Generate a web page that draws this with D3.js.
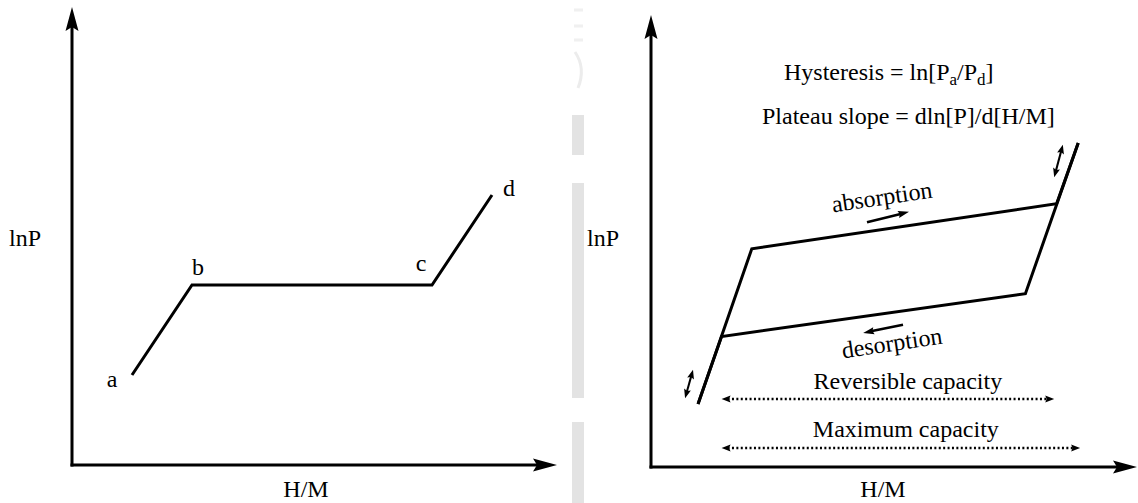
<!DOCTYPE html>
<html>
<head>
<meta charset="utf-8">
<script src="https://cdn.jsdelivr.net/npm/d3@7"></script>
<style>
  html, body { margin: 0; padding: 0; background: #fff; }
  svg { display: block; font-family: "Liberation Serif", "Times New Roman", serif; }
</style>
</head>
<body>
<svg id="chart" width="1138" height="503"></svg>
<script>
// ---- Idealised pressure–composition isotherm (left panel), H/M vs lnP ----
const pctLabels = ["a", "b", "c", "d"];
const pctHM     = [1.25, 2.5, 7.5, 8.75];
const pctLnP    = [2.0, 4.0, 4.0, 6.0];

// ---- Real isotherm with hysteresis (right panel) ----
const absorptionHM  = [0.98, 2.1, 8.45, 8.9];
const absorptionLnP = [1.4, 4.85, 5.85, 7.2];
const desorptionHM  = [8.9, 7.8, 1.47, 0.98];
const desorptionLnP = [7.2, 3.85, 2.9, 1.4];

// ---- Capacity ranges along H/M ----
const capacityNames = ["Reversible capacity", "Maximum capacity"];
const capacityStart = [1.47, 1.47];
const capacityEnd   = [8.4, 8.94];

// ---- Axis titles ----
const xTitle = "H/M";
const yTitle = "lnP";

const svg = d3.select("#chart");
const INK = "#000";
const FS = 24;      // main text size
const FS_SUB = 17;  // subscript size

// Panel frames: data domain 0–10 on both axes
const panels = {
  left:  { x: d3.scaleLinear().domain([0, 10]).range([72, 552]),
           y: d3.scaleLinear().domain([0, 10]).range([465, 15]),
           xTip: 557, yTip: 7 },
  right: { x: d3.scaleLinear().domain([0, 10]).range([651, 1131]),
           y: d3.scaleLinear().domain([0, 10]).range([467, 17]),
           xTip: 1137, yTip: 15 }
};

// Filled arrowhead pointing along `ang` with its tip at (tx, ty)
function arrowHead(g, tx, ty, ang, len, half, notch) {
  const c = Math.cos(ang), s = Math.sin(ang);
  const pt = (u, v) => [tx + u * c - v * s, ty + u * s + v * c];
  const pts = [pt(0, 0), pt(-len, -half), pt(-len + notch, 0), pt(-len, half)];
  g.append("path").attr("d", d3.line()(pts) + "Z").attr("fill", INK).attr("stroke", "none");
}

// Axes drawn with d3 axis generators (no ticks), finished with arrowheads
function drawAxes(p) {
  const ox = p.x.range()[0], oy = p.y.range()[0];
  const gx = svg.append("g").attr("transform", `translate(0,${oy})`)
    .call(d3.axisBottom(p.x).tickValues([]).tickSizeOuter(0));
  const gy = svg.append("g").attr("transform", `translate(${ox},0)`)
    .call(d3.axisLeft(p.y).tickValues([]).tickSizeOuter(0));
  [gx, gy].forEach(g => g.select(".domain").attr("stroke", INK).attr("stroke-width", 3));
  // stretch the domain lines a little so they meet under the heads
  gx.select(".domain").attr("d", `M${ox - 1.5},0H${p.xTip - 10}`);
  gy.select(".domain").attr("d", `M0,${oy + 1.5}V${p.yTip + 10}`);
  arrowHead(svg, p.xTip, oy, 0, 24, 6.5, 4);
  arrowHead(svg, ox, p.yTip, -Math.PI / 2, 24, 6.5, 4);
}

drawAxes(panels.left);
drawAxes(panels.right);

// Axis titles
svg.append("text").attr("x", 9).attr("y", 246).attr("font-size", FS).text(yTitle);
svg.append("text").attr("x", 306).attr("y", 497).attr("text-anchor", "middle").attr("font-size", FS).text(xTitle);
svg.append("text").attr("x", 587).attr("y", 246).attr("font-size", FS).text(yTitle);
svg.append("text").attr("x", 883).attr("y", 497).attr("text-anchor", "middle").attr("font-size", FS).text(xTitle);

// ---- Left panel: a–b–c–d curve ----
{
  const p = panels.left;
  const pts = pctHM.map((h, i) => [h, pctLnP[i]]);
  const line = d3.line().x(d => p.x(d[0])).y(d => p.y(d[1]));
  svg.append("path").attr("d", line(pts))
    .attr("fill", "none").attr("stroke", INK).attr("stroke-width", 3)
    .attr("stroke-linejoin", "miter");
  // label offsets (px) from each point
  const off = [[-20, 12], [6, -10], [-11, -14], [17, 1]];
  svg.selectAll("text.pct").data(pts).join("text").attr("class", "pct")
    .attr("x", (d, i) => p.x(d[0]) + off[i][0])
    .attr("y", (d, i) => p.y(d[1]) + off[i][1])
    .attr("text-anchor", "middle").attr("font-size", FS)
    .text((d, i) => pctLabels[i]);
}

// ---- Right panel: hysteresis loop ----
{
  const p = panels.right;
  const line = d3.line().x(d => p.x(d[0])).y(d => p.y(d[1]));
  const abs = absorptionHM.map((h, i) => [h, absorptionLnP[i]]);
  const des = desorptionHM.map((h, i) => [h, desorptionLnP[i]]);
  [abs, des].forEach(pts => svg.append("path").attr("d", line(pts))
    .attr("fill", "none").attr("stroke", INK).attr("stroke-width", 3)
    .attr("stroke-linejoin", "miter"));

  // slope of the plateaus in screen space, used to tilt the branch labels
  const ang = Math.atan2(p.y(absorptionLnP[2]) - p.y(absorptionLnP[1]),
                         p.x(absorptionHM[2]) - p.x(absorptionHM[1])) * 180 / Math.PI;

  // Direction arrows along the branches
  function simpleArrow(a, b, width, len, half) {
    const x1 = p.x(a[0]), y1 = p.y(a[1]), x2 = p.x(b[0]), y2 = p.y(b[1]);
    const t = Math.atan2(y2 - y1, x2 - x1);
    svg.append("line").attr("x1", x1).attr("y1", y1)
      .attr("x2", x2 - Math.cos(t) * len * 0.6).attr("y2", y2 - Math.sin(t) * len * 0.6)
      .attr("stroke", INK).attr("stroke-width", width);
    arrowHead(svg, x2, y2, t, len, half, 1.5);
  }
  simpleArrow([4.5, 5.44], [5.375, 5.67], 2.5, 11, 3.5);
  simpleArrow([5.25, 3.16], [4.42, 2.98], 2.5, 11, 3.5);

  // Small double-headed arrows beside the steep ends
  function doubleArrow(a, b) {
    const x1 = p.x(a[0]), y1 = p.y(a[1]), x2 = p.x(b[0]), y2 = p.y(b[1]);
    const t = Math.atan2(y2 - y1, x2 - x1);
    svg.append("line").attr("x1", x1 + Math.cos(t) * 5).attr("y1", y1 + Math.sin(t) * 5)
      .attr("x2", x2 - Math.cos(t) * 5).attr("y2", y2 - Math.sin(t) * 5)
      .attr("stroke", INK).attr("stroke-width", 2);
    arrowHead(svg, x2, y2, t, 9, 3.5, 1.5);
    arrowHead(svg, x1, y1, t + Math.PI, 9, 3.5, 1.5);
  }
  doubleArrow([0.875, 2.16], [0.71, 1.53]);
  doubleArrow([8.58, 7.16], [8.4, 6.44]);

  // Branch labels
  svg.append("text").attr("transform", `translate(883,205) rotate(${ang})`)
    .attr("text-anchor", "middle").attr("font-size", FS).text("absorption");
  svg.append("text").attr("transform", `translate(893,351) rotate(${ang})`)
    .attr("text-anchor", "middle").attr("font-size", FS).text("desorption");

  // Formulas
  const h = svg.append("text").attr("x", 784).attr("y", 80).attr("font-size", FS);
  h.append("tspan").text("Hysteresis = ln[P");
  h.append("tspan").attr("font-size", FS_SUB).attr("dy", 5).text("a");
  h.append("tspan").attr("dy", -5).text("/P");
  h.append("tspan").attr("font-size", FS_SUB).attr("dy", 5).text("d");
  h.append("tspan").attr("dy", -5).text("]");
  svg.append("text").attr("x", 762).attr("y", 124).attr("font-size", FS)
    .text("Plateau slope = dln[P]/d[H/M]");

  // Capacity ranges as dotted double arrows
  const capRowY = [399, 448];
  const capLabelY = [389, 437];
  capacityNames.forEach((name, i) => {
    const x1 = p.x(capacityStart[i]), x2 = p.x(capacityEnd[i]), yy = capRowY[i];
    svg.append("line").attr("x1", x1 + 6).attr("x2", x2 - 6).attr("y1", yy).attr("y2", yy)
      .attr("stroke", INK).attr("stroke-width", 2.5).attr("stroke-dasharray", "2,2.4");
    arrowHead(svg, x2, yy, 0, 9, 3.5, 1.5);
    arrowHead(svg, x1, yy, Math.PI, 9, 3.5, 1.5);
    svg.append("text").attr("x", (x1 + x2) / 2 + (i === 0 ? 20 : 5)).attr("y", capLabelY[i])
      .attr("text-anchor", "middle").attr("font-size", FS).text(name);
  });
}

// Faint grey band between the two panels
const band = svg.append("g").attr("fill", "#e3e3e3");
[[115, 155], [183, 398], [422, 503]].forEach(([a, b]) =>
  band.append("rect").attr("x", 572).attr("y", a).attr("width", 12).attr("height", b - a));
svg.append("path").attr("d", "M575,52 Q586,68 578,88").attr("fill", "none")
  .attr("stroke", "#ececec").attr("stroke-width", 3);
svg.append("path").attr("d", "M574,10 H583 M574,26 H583 M574,40 H583").attr("fill", "none")
  .attr("stroke", "#f0f0f0").attr("stroke-width", 3);
</script>
</body>
</html>
